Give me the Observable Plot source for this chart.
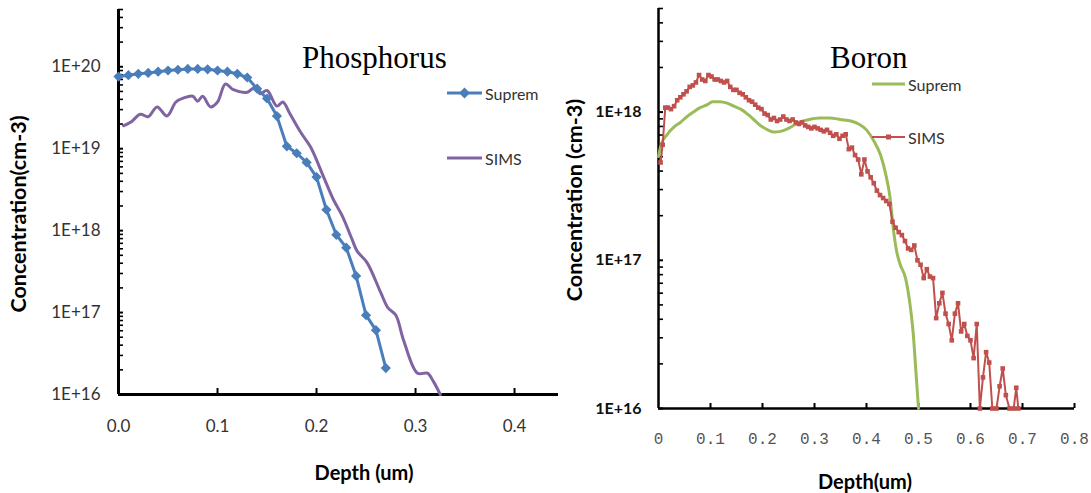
<!DOCTYPE html>
<html>
<head>
<meta charset="utf-8">
<script src="https://cdn.jsdelivr.net/npm/d3@7"></script>
<script src="https://cdn.jsdelivr.net/npm/@observablehq/plot@0.6"></script>
<style>
  html, body { margin: 0; padding: 0; background: #fff; }
  body { width: 1091px; height: 493px; position: relative; overflow: hidden; font-family: Lato, "Open Sans", sans-serif; }
  .panel { position: absolute; top: 0; }
  #overlay { position: absolute; left: 0; top: 0; pointer-events: none; }
</style>
</head>
<body>
<div id="phos" class="panel" style="left:0px"></div>
<div id="boron" class="panel" style="left:560px"></div>
<svg id="overlay" width="1091" height="493"></svg>
<script>
// ---------- Phosphorus profile ----------
// Suprem simulation, one point every 0.01 um
const phosSupremDepth = [0.00, 0.01, 0.02, 0.03, 0.04, 0.05, 0.06, 0.07, 0.08, 0.09, 0.10, 0.11, 0.12, 0.13,
  0.14, 0.15, 0.16, 0.17, 0.18, 0.19, 0.20, 0.21, 0.22, 0.23, 0.24, 0.25, 0.26, 0.27];
const phosSupremConc = [7.6e19, 7.9e19, 8.2e19, 8.4e19, 8.7e19, 9.0e19, 9.2e19, 9.4e19, 9.4e19, 9.3e19, 9.0e19, 8.7e19, 8.2e19, 7.4e19,
  5.4e19, 4.1e19, 2.5e19, 1.07e19, 8.8e18, 6.8e18, 4.5e18, 1.8e18, 8.9e17, 6.2e17, 2.8e17, 9.3e16, 6.1e16, 2.1e16];

// SIMS measurement
const phosSimsDepth = [0.005, 0.013, 0.022, 0.030, 0.039, 0.049, 0.058, 0.066, 0.075, 0.080, 0.085, 0.093, 0.100,
  0.108, 0.116, 0.130, 0.138, 0.143, 0.150, 0.160, 0.166, 0.173, 0.184, 0.194, 0.207, 0.217, 0.226, 0.236, 0.241,
  0.251, 0.265, 0.272, 0.280, 0.288, 0.302, 0.312, 0.318, 0.325];
const phosSimsLog = [19.28, 19.33, 19.42, 19.39, 19.51, 19.40, 19.57, 19.62, 19.64, 19.58, 19.64, 19.51, 19.57,
  19.79, 19.72, 19.69, 19.75, 19.67, 19.71, 19.52, 19.57, 19.43, 19.20, 19.02, 18.66, 18.38, 18.18, 17.89, 17.75,
  17.61, 17.24, 17.06, 16.97, 16.66, 16.26, 16.26, 16.16, 16.00];

// ---------- Boron profile ----------
const boronSupremDepth = [0.000, 0.005, 0.017, 0.030, 0.042, 0.055, 0.067, 0.080, 0.094, 0.104, 0.118, 0.132, 0.145,
  0.158, 0.170, 0.183, 0.196, 0.210, 0.222, 0.235, 0.250, 0.270, 0.290, 0.310, 0.330, 0.350, 0.370, 0.385, 0.400,
  0.415, 0.427, 0.437, 0.445, 0.452, 0.458, 0.465, 0.475, 0.483, 0.490, 0.495, 0.500];
const boronSupremLog = [17.70, 17.78, 17.85, 17.90, 17.93, 17.97, 18.00, 18.03, 18.05, 18.07, 18.07, 18.06, 18.04,
  18.02, 17.99, 17.95, 17.91, 17.88, 17.865, 17.87, 17.89, 17.93, 17.95, 17.96, 17.96, 17.95, 17.94, 17.92, 17.88,
  17.80, 17.71, 17.58, 17.43, 17.20, 17.06, 16.97, 16.88, 16.72, 16.50, 16.25, 16.00];

const boronSimsDepth = [0.004, 0.008, 0.013, 0.018, 0.024, 0.030, 0.036, 0.042, 0.048, 0.054, 0.060, 0.066, 0.072,
  0.078, 0.084, 0.090, 0.096, 0.102, 0.108, 0.114, 0.120, 0.126, 0.132, 0.138, 0.144, 0.150, 0.156, 0.162, 0.168,
  0.174, 0.180, 0.186, 0.192, 0.198, 0.204, 0.210, 0.216, 0.222, 0.228, 0.234, 0.240, 0.246, 0.252, 0.258, 0.264,
  0.270, 0.276, 0.282, 0.288, 0.294, 0.300, 0.306, 0.312, 0.318, 0.324, 0.330, 0.336, 0.342, 0.348, 0.354, 0.360,
  0.366, 0.372, 0.378, 0.384, 0.390, 0.396, 0.402, 0.408, 0.414, 0.420, 0.426, 0.432, 0.438, 0.444, 0.450, 0.456,
  0.462, 0.468, 0.474, 0.480, 0.486, 0.492, 0.498, 0.504, 0.510, 0.516, 0.522, 0.528, 0.534, 0.540, 0.546, 0.552,
  0.558, 0.564, 0.570, 0.576, 0.582, 0.588, 0.594, 0.600, 0.606, 0.612, 0.618, 0.624, 0.630, 0.636, 0.642, 0.650,
  0.656, 0.662, 0.668, 0.675, 0.683, 0.688, 0.692];
const boronSimsLog = [17.66, 17.78, 18.03, 18.03, 18.02, 18.04, 18.08, 18.10, 18.12, 18.14, 18.17, 18.18, 18.20,
  18.25, 18.22, 18.21, 18.25, 18.24, 18.22, 18.22, 18.21, 18.20, 18.21, 18.17, 18.15, 18.15, 18.13, 18.12, 18.10,
  18.08, 18.07, 18.05, 18.03, 18.02, 17.99, 17.98, 17.95, 17.96, 17.94, 17.95, 17.97, 17.95, 17.94, 17.95, 17.93,
  17.92, 17.93, 17.91, 17.90, 17.89, 17.90, 17.89, 17.88, 17.87, 17.88, 17.86, 17.84, 17.85, 17.82, 17.84, 17.85,
  17.75, 17.76, 17.71, 17.68, 17.58, 17.68, 17.60, 17.56, 17.52, 17.47, 17.44, 17.42, 17.40, 17.38, 17.26, 17.22,
  17.19, 17.17, 17.13, 17.08, 17.07, 17.10, 17.00, 16.97, 16.88, 16.94, 16.89, 16.88, 16.61, 16.71, 16.78, 16.64,
  16.57, 16.46, 16.64, 16.71, 16.52, 16.57, 16.49, 16.46, 16.34, 16.57, 16.00, 16.21, 16.38, 16.31, 16.00, 16.00,
  16.15, 16.27, 16.09, 16.00, 16.00, 16.14, 16.00];

// ---------- axis tick values ----------
const phosXTicks = [0, 0.1, 0.2, 0.3, 0.4];
const phosYTicks = [1e16, 1e17, 1e18, 1e19, 1e20];
const boronXTicks = [0, 0.1, 0.2, 0.3, 0.4, 0.5, 0.6, 0.7, 0.8];
const boronYTicks = [1e16, 1e17, 1e18];

// ---------- series styles ----------
const colors = { phosSuprem: "#4A7EBB", phosSims: "#8064A2", boronSuprem: "#9BBB59", boronSims: "#C0504D" };

const phosSuprem = phosSupremDepth.map((x, i) => ({ x, y: phosSupremConc[i] }));
const phosSims = phosSimsDepth.map((x, i) => ({ x, y: 10 ** phosSimsLog[i] }));
const boronSuprem = boronSupremDepth.map((x, i) => ({ x, y: 10 ** boronSupremLog[i] }));
const boronSims = boronSimsDepth.map((x, i) => ({ x, y: 10 ** boronSimsLog[i] }));

// minor decade ticks 2..9 × 10^k up to the top of the domain
function minorTicks(lo, hi) {
  const out = [];
  for (let e = Math.log10(lo); e < Math.log10(hi); e++)
    for (let m = 2; m <= 9; m++) { const v = m * 10 ** e; if (v <= hi * 1.0001) out.push(v); }
  return out;
}
const sci = d => "1E+" + Math.round(Math.log10(d));
const boronDepthFormat = d => d === 0 ? "0" : d3.format(".1f")(d);

// ---------- Phosphorus plot ----------
{
  const W = 560, H = 493, mL = 118, mR = 2, mT = 9, mB = 99;
  const innerW = W - mL - mR, innerH = H - mT - mB;
  const yDomain = [1e16, 5e20];
  const chart = Plot.plot({
    width: W, height: H, marginLeft: mL, marginRight: mR, marginTop: mT, marginBottom: mB,
    style: { background: "transparent", overflow: "visible" },
    x: { domain: [0, 0.4444] },
    y: { type: "log", domain: yDomain },
    marks: [
      Plot.axisX({ ticks: phosXTicks, tickSize: 0, tickPadding: 25, tickFormat: d3.format(".1f"), label: null,
        fontSize: 17, fill: "#333", fontFamily: "Lato, sans-serif" }),
      Plot.axisY({ ticks: phosYTicks, tickSize: 0, tickPadding: 18, tickFormat: sci, label: null,
        fontSize: 17, fill: "#333", fontFamily: "Lato, sans-serif" }),
      Plot.tickY(minorTicks(yDomain[0], yDomain[1]), { y: d => d, insetRight: innerW - 5, stroke: "#000", strokeWidth: 1.6 }),
      Plot.tickY(phosYTicks, { y: d => d, insetRight: innerW - 5, stroke: "#000", strokeWidth: 2 }),
      Plot.tickX(phosXTicks.slice(1), { x: d => d, insetTop: innerH - 6, stroke: "#000", strokeWidth: 2 }),
      Plot.ruleX([0], { stroke: "#000", strokeWidth: 3 }),
      Plot.ruleY([yDomain[0]], { stroke: "#000", strokeWidth: 3 }),
      Plot.line(phosSims, { x: "x", y: "y", stroke: colors.phosSims, strokeWidth: 3, curve: "catmull-rom" }),
      Plot.line(phosSuprem, { x: "x", y: "y", stroke: colors.phosSuprem, strokeWidth: 3 }),
      Plot.dot(phosSuprem, { x: "x", y: "y", symbol: "diamond2", r: 4.6, fill: colors.phosSuprem, stroke: "none" })
    ]
  });
  document.getElementById("phos").appendChild(chart);
}

// ---------- Boron plot ----------
{
  const W = 531, H = 493, mL = 98, mR = 17, mT = 8, mB = 85;
  const innerW = W - mL - mR, innerH = H - mT - mB;
  const yDomain = [1e16, 5e18];
  const chart = Plot.plot({
    width: W, height: H, marginLeft: mL, marginRight: mR, marginTop: mT, marginBottom: mB,
    style: { background: "transparent", overflow: "visible" },
    x: { domain: [0, 0.8] },
    y: { type: "log", domain: yDomain },
    marks: [
      Plot.axisX({ ticks: boronXTicks, tickSize: 0, tickPadding: 24, tickFormat: boronDepthFormat, label: null,
        fontSize: 16, fill: "#555", fontFamily: "Liberation Mono, monospace", letterSpacing: "0.5px" }),
      Plot.axisY({ ticks: boronYTicks, tickSize: 0, tickPadding: 17, tickFormat: sci, label: null,
        fontSize: 16, fontWeight: "bold", fill: "#111", fontFamily: "Lato, sans-serif" }),
      Plot.tickY(minorTicks(yDomain[0], yDomain[1]), { y: d => d, insetRight: innerW - 5, stroke: "#000", strokeWidth: 1.6 }),
      Plot.tickY(boronYTicks, { y: d => d, insetRight: innerW - 5, stroke: "#000", strokeWidth: 2 }),
      Plot.tickX(boronXTicks.slice(1), { x: d => d, insetTop: innerH - 5, stroke: "#000", strokeWidth: 2 }),
      Plot.ruleX([0], { stroke: "#000", strokeWidth: 2.5 }),
      Plot.ruleY([yDomain[0]], { stroke: "#000", strokeWidth: 2.5 }),
      Plot.line(boronSuprem, { x: "x", y: "y", stroke: colors.boronSuprem, strokeWidth: 3, curve: "monotone-x" }),
      Plot.line(boronSims, { x: "x", y: "y", stroke: colors.boronSims, strokeWidth: 2 }),
      Plot.dot(boronSims, { x: "x", y: "y", symbol: "square", r: 2.6, fill: colors.boronSims, stroke: "none" })
    ]
  });
  document.getElementById("boron").appendChild(chart);
}

// ---------- titles, axis titles and legends ----------
{
  const svg = d3.select("#overlay");
  const title = (x, y, t) => svg.append("text").attr("x", x).attr("y", y)
    .attr("font-family", "Liberation Serif, Times New Roman, serif").attr("font-size", 31).attr("fill", "#000").text(t);
  title(302, 68, "Phosphorus");
  title(830, 68, "Boron");

  const axisTitle = (x, y, t, size, rotate) => {
    const el = svg.append("text").attr("text-anchor", "middle").attr("dominant-baseline", "central")
      .attr("font-family", "Lato, Open Sans, sans-serif").attr("font-weight", "bold").attr("font-size", size)
      .attr("fill", "#000").text(t);
    el.attr("transform", `translate(${x},${y})` + (rotate ? " rotate(-90)" : ""));
  };
  axisTitle(18, 214, "Concentration(cm-3)", 21.5, true);
  axisTitle(574, 200, "Concentration (cm-3)", 21.5, true);
  axisTitle(364, 472, "Depth (um)", 20, false);
  axisTitle(865, 481, "Depth(um)", 20, false);

  const legendItem = (x1, x2, y, color, width, marker, label) => {
    svg.append("line").attr("x1", x1).attr("x2", x2).attr("y1", y).attr("y2", y)
      .attr("stroke", color).attr("stroke-width", width);
    const cx = (x1 + x2) / 2;
    if (marker === "diamond")
      svg.append("path").attr("d", `M${cx},${y - 5.5}L${cx + 5.5},${y}L${cx},${y + 5.5}L${cx - 5.5},${y}Z`).attr("fill", color);
    if (marker === "square")
      svg.append("rect").attr("x", cx - 2.5).attr("y", y - 2.5).attr("width", 5).attr("height", 5).attr("fill", color);
    svg.append("text").attr("x", x2 + 3).attr("y", y).attr("dominant-baseline", "central")
      .attr("font-family", "Lato, Open Sans, sans-serif").attr("font-size", 16).attr("fill", "#333").text(label);
  };
  legendItem(447, 482, 93, colors.phosSuprem, 3, "diamond", "Suprem");
  legendItem(447, 482, 158, colors.phosSims, 3, null, "SIMS");
  legendItem(872, 905, 84, colors.boronSuprem, 3, null, "Suprem");
  legendItem(872, 905, 137, colors.boronSims, 2, "square", "SIMS");
}
</script>
</body>
</html>
